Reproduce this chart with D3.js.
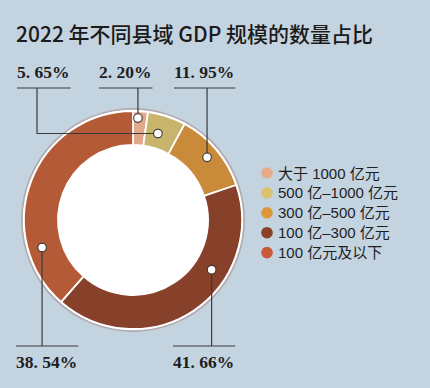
<!DOCTYPE html>
<html>
<head>
<meta charset="utf-8">
<script src="https://cdn.jsdelivr.net/npm/d3@7"></script>
<style>
  body { margin: 0; background: #c4d3e0; }
  svg { display: block; }
</style>
</head>
<body>
<div id="chart"></div>
<script>
// data
var categories = ["大于 1000 亿元", "500 亿–1000 亿元", "300 亿–500 亿元", "100 亿–300 亿元", "100 亿元及以下"]
var shares = [2.20, 5.65, 11.95, 41.66, 38.54]
var shareLabels = ["2. 20%", "5. 65%", "11. 95%", "41. 66%", "38. 54%"]
var sliceColors = ["#e2a88c", "#c9b46c", "#c98b3a", "#87412b", "#b55a36"]
var legendColors = ["#e8aa8c", "#dcc26e", "#dd973a", "#8c3f29", "#c85a3a"]

var width = 430, height = 388
var cx = 133, cy = 220
var rOuter = 109, rInner = 75

// where each callout sits (t = fraction along the slice, r = radius of the dot)
var callouts = [
  {t: 0.35, r: 102, lx: 99, top: true},
  {t: 0.40, r: 90, lx: 17, top: true, elbow: 37},
  {t: 0.50, r: 97, lx: 174, top: true},
  {t: 0.34, r: 93, lx: 173, top: false},
  {t: 0.23, r: 95, lx: 16, top: false}
]

var svg = d3.select("#chart").append("svg")
  .attr("width", width)
  .attr("height", height)

svg.append("rect")
  .attr("width", width).attr("height", height)
  .attr("fill", "#c4d3e0")

// title
svg.append("text")
  .attr("x", 16).attr("y", 42)
  .attr("font-family", "'Noto Sans CJK SC', 'Noto Sans', sans-serif")
  .attr("font-weight", 500)
  .attr("font-size", 21)
  .attr("fill", "#1b1b1b")
  .text("2022 年不同县域 GDP 规模的数量占比")

var pie = d3.pie().sort(null).value(d => d)
var arcs = pie(shares)

var arc = d3.arc().innerRadius(rInner).outerRadius(rOuter)

var g = svg.append("g").attr("transform", `translate(${cx},${cy})`)

// soft shadow + white rim
g.append("circle").attr("r", rOuter + 2.2)
  .attr("fill", "none").attr("stroke", "rgba(150,90,70,0.35)").attr("stroke-width", 1.5)
g.append("circle").attr("r", rOuter + 1)
  .attr("fill", "#fff")

g.selectAll(".slice")
  .data(arcs)
  .enter()
  .append("path")
  .classed("slice", true)
  .attr("d", arc)
  .attr("fill", (d, i) => sliceColors[i])
  .attr("stroke", "#fff")
  .attr("stroke-width", 1.8)

g.append("circle").attr("r", rInner).attr("fill", "#fff")

// callouts
var labelFont = "'Liberation Serif', 'DejaVu Serif', serif"
arcs.forEach((d, i) => {
  var c = callouts[i]
  var a = d.startAngle + c.t * (d.endAngle - d.startAngle)
  var px = cx + c.r * Math.sin(a)
  var py = cy - c.r * Math.cos(a)

  var baseline = c.top ? 78 : 368
  var lineY = c.top ? 88 : 346

  var txt = svg.append("text")
    .attr("x", c.lx).attr("y", baseline)
    .attr("font-family", labelFont)
    .attr("font-weight", "bold")
    .attr("font-size", 17.5)
    .attr("fill", "#1e1e1e")
    .text(shareLabels[i])
  var w = txt.node().getComputedTextLength()

  svg.append("line")
    .attr("x1", c.lx).attr("x2", c.lx + w + 1)
    .attr("y1", lineY).attr("y2", lineY)
    .attr("stroke", "#3a3a3a").attr("stroke-width", 1.2)

  var pts
  if (c.elbow) {
    pts = [[px, py], [c.elbow, py], [c.elbow, lineY]]
  } else {
    pts = [[px, py], [px, lineY]]
  }
  svg.append("path")
    .attr("d", d3.line()(pts))
    .attr("fill", "none")
    .attr("stroke", "#3a3a3a").attr("stroke-width", 1.2)

  svg.append("circle")
    .attr("cx", px).attr("cy", py).attr("r", 4.3)
    .attr("fill", "#fff")
    .attr("stroke", "#333").attr("stroke-width", 1.1)
})

// legend
var legend = svg.append("g").attr("transform", "translate(267,173)")
var items = legend.selectAll(".item")
  .data(categories)
  .enter()
  .append("g")
  .classed("item", true)
  .attr("transform", (d, i) => `translate(0,${i * 19.9})`)

items.append("circle")
  .attr("r", 5.8)
  .attr("fill", (d, i) => legendColors[i])

items.append("text")
  .attr("x", 11).attr("y", 5.5)
  .attr("font-family", "'Liberation Sans', 'Noto Sans CJK SC', sans-serif")
  .attr("font-size", 15)
  .attr("fill", "#1e1e1e")
  .text(d => d)
</script>
</body>
</html>
